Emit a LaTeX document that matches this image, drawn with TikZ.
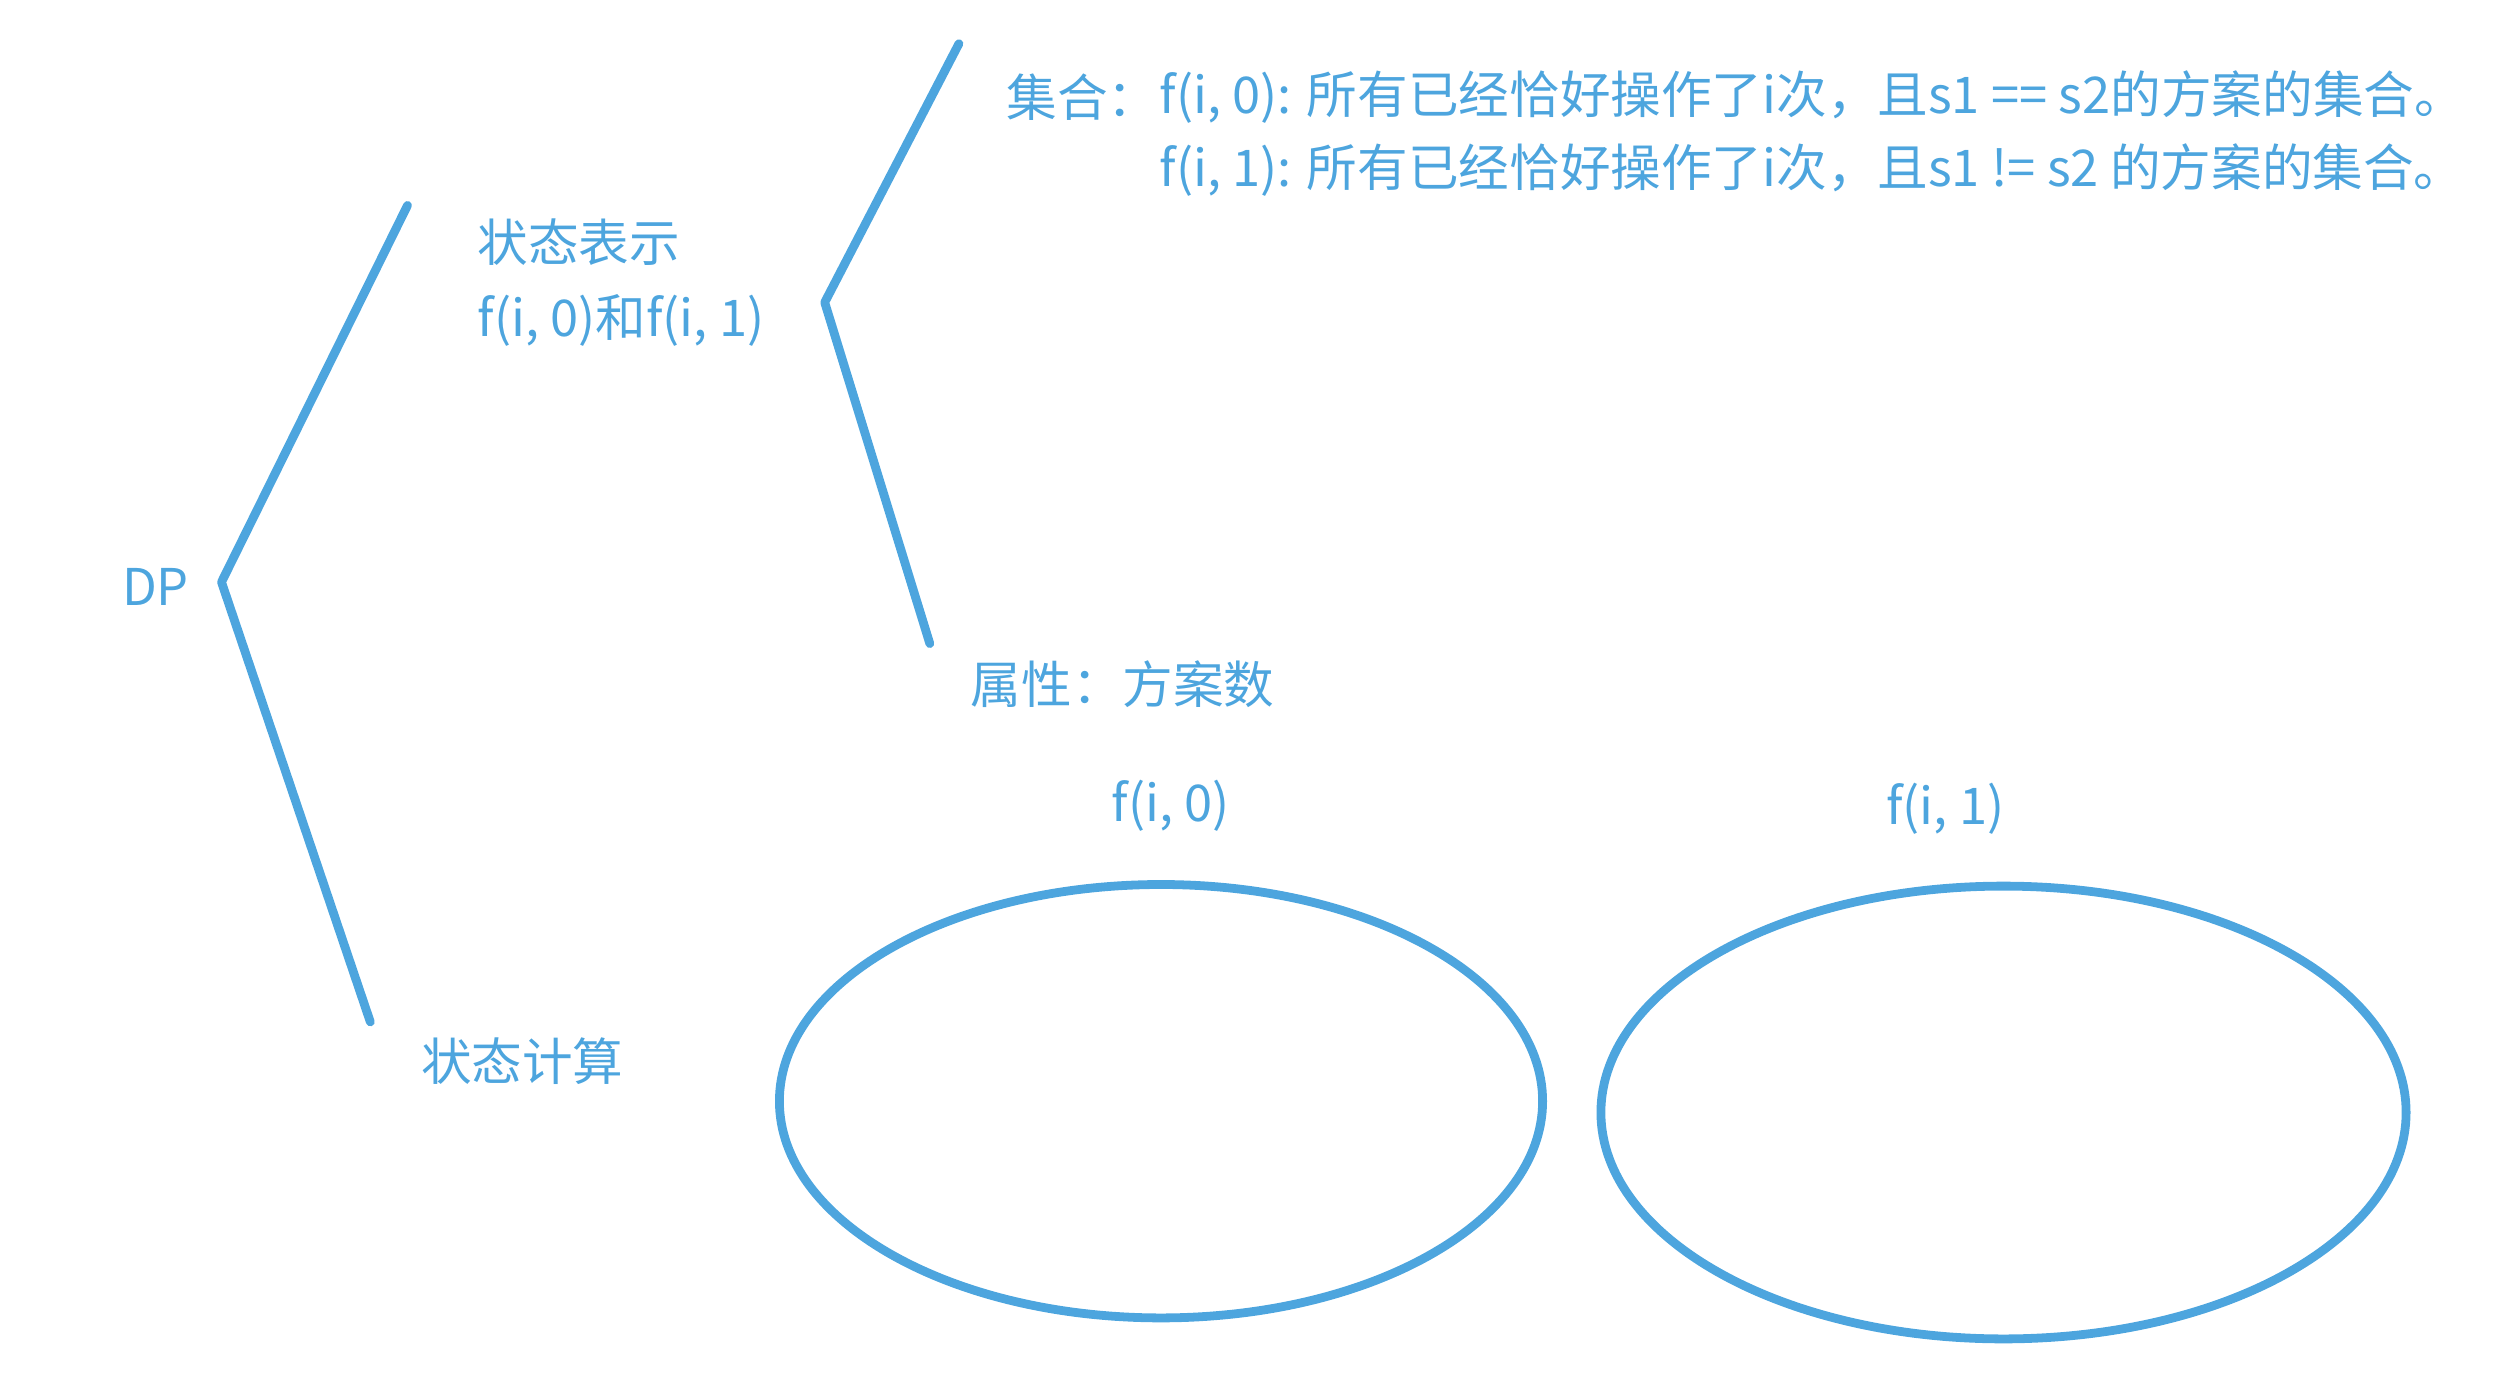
\documentclass[tikz,border=0pt]{standalone}
\usepackage{fontspec}
\setmainfont{Noto Sans CJK SC}
\usepackage{tikz}
\usetikzlibrary{positioning}
\definecolor{dpblue}{RGB}{77,165,222}

\begin{document}
\begin{tikzpicture}[
	lbl/.style={text=dpblue,font=\fontsize{14.4}{17}\selectfont,inner sep=0pt,anchor=west},
	branch/.style={draw=dpblue,line width=2.5pt,line cap=round,line join=round}]
	\useasboundingbox (0,0) rectangle (25.06,13.76);
	% left bracket
	\coordinate (dptop) at (4.075,11.706);
	\coordinate (dpmid) at (2.215,7.939);
	\coordinate (dpbot) at (3.703,3.541);
	\draw [branch] (dptop) -- (dpmid) -- (dpbot);
	\node[lbl] (dp) at (1.213,7.89) {DP};
	\node[lbl] (rep) at (4.770,11.334) {状态表示};
	\node[lbl] (repf) at ([yshift=-0.776cm]rep.west) {f(i, 0)和f(i, 1)};
	\node[lbl] (calc) at (4.204,3.152) {状态计算};
	% second bracket
	\coordinate (reptop) at (9.589,13.323);
	\coordinate (repmid) at (8.247,10.736);
	\coordinate (repbot) at (9.298,7.324);
	\draw [branch] (reptop) -- (repmid) -- (repbot);
	\node[lbl] (setlbl) at (10.058,12.79) {集合：};
	\node[lbl] (set0) at (setlbl.east) {f(i, 0): 所有已经恰好操作了i次，且s1 == s2的方案的集合。};
	\node[lbl] (set1) at ([yshift=-0.728cm]set0.west) {f(i, 1): 所有已经恰好操作了i次，且s1 != s2 的方案的集合。};
	\node[lbl] (attr) at (9.702,6.92) {属性：方案数};
	% the two sets
	\draw [branch] (11.610,2.748) ellipse [x radius=3.816,y radius=2.167];
	\draw [branch] (20.035,2.635) ellipse [x radius=4.026,y radius=2.264];
	\node[lbl,anchor=center] (f0) at (11.707,5.707) {f(i, 0)};
	\node[lbl,anchor=center] (f1) at (19.453,5.675) {f(i, 1)};
\end{tikzpicture}
\end{document}
